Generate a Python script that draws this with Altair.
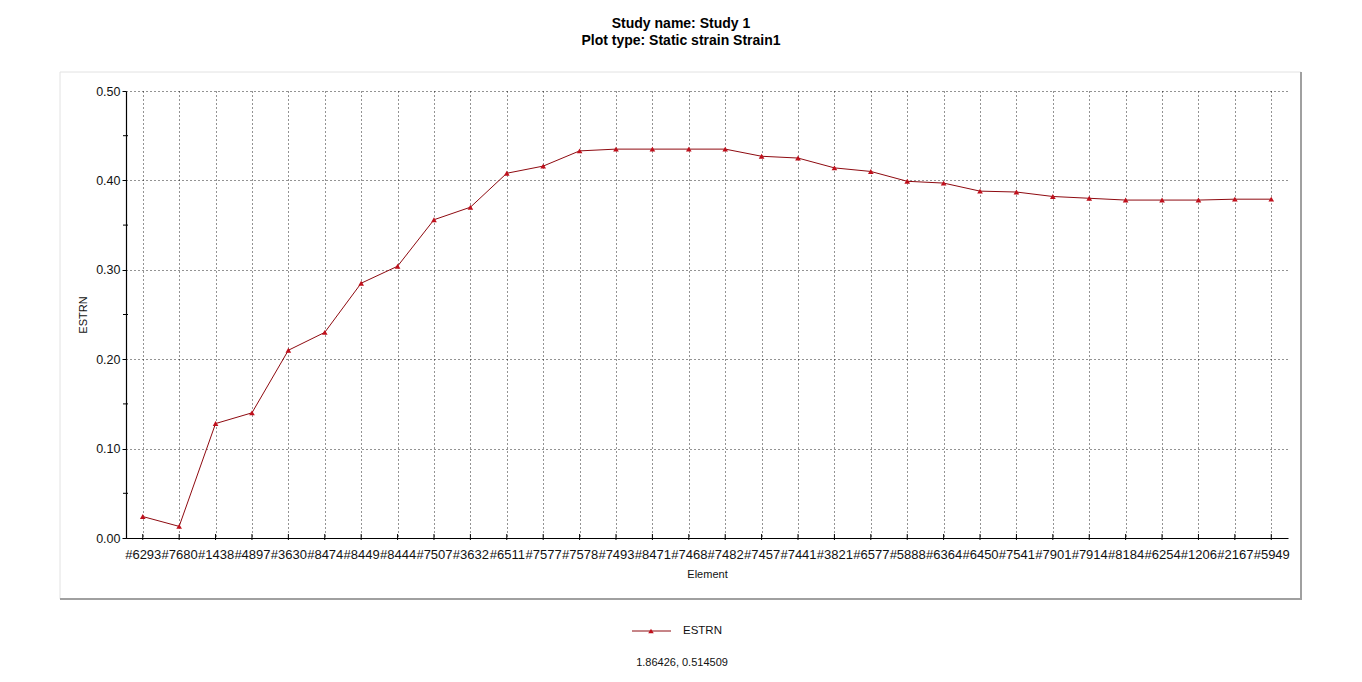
import altair as alt
import pandas as pd

FONT = "Liberation Sans"

elements = ["#6293", "#7680", "#1438", "#4897", "#3630", "#8474", "#8449", "#8444",
            "#7507", "#3632", "#6511", "#7577", "#7578", "#7493", "#8471", "#7468",
            "#7482", "#7457", "#7441", "#3821", "#6577", "#5888", "#6364", "#6450",
            "#7541", "#7901", "#7914", "#8184", "#6254", "#1206", "#2167", "#5949"]
estrn = [0.024, 0.013, 0.128, 0.140, 0.210, 0.230, 0.285, 0.304,
         0.356, 0.370, 0.408, 0.416, 0.433, 0.435, 0.435, 0.435,
         0.435, 0.427, 0.425, 0.414, 0.410, 0.399, 0.397, 0.388,
         0.387, 0.382, 0.380, 0.378, 0.378, 0.378, 0.379, 0.379]
y_major = [0.0, 0.1, 0.2, 0.3, 0.4, 0.5]
y_minor = [0.05, 0.15, 0.25, 0.35, 0.45]
title_lines = ["Study name: Study 1", "Plot type: Static strain Strain1"]
legend_label = ["ESTRN"]
cursor_text = ["1.86426, 0.514509"]

LINE_COLOR = "#8E0A10"
MARK_COLOR = "#C0101C"
GRID_COLOR = "#000000"

df = pd.DataFrame({"Element": elements, "ESTRN": estrn})

xscale = alt.Scale(type="point", padding=0.46)
yscale = alt.Scale(domain=[0, 0.5], nice=False, zero=True)

x_enc = alt.X(
    "Element:N", sort=None, scale=xscale,
    axis=alt.Axis(title="Element", labelAngle=0, labelOverlap=False, ticks=False,
                  grid=True, gridDash=[1, 3], gridColor=GRID_COLOR, gridOpacity=0.85,
                  labelPadding=10, labelFontSize=13, labelFont=FONT, labelColor="#111",
                  titleFontSize=11, titleFont=FONT, titleFontWeight="normal",
                  titleColor="#111", titlePadding=7, domainColor="#000", domainWidth=1.2),
)
y_enc = alt.Y(
    "ESTRN:Q", scale=yscale,
    axis=alt.Axis(title="ESTRN", values=y_major, format=".2f",
                  grid=True, gridDash=[1, 3], gridColor=GRID_COLOR, gridOpacity=0.85,
                  tickSize=4, tickColor="#000", labelPadding=2,
                  labelFontSize=12.5, labelFont=FONT, labelColor="#111",
                  titleFontSize=11, titleFont=FONT, titleFontWeight="normal",
                  titleColor="#111", titlePadding=7, domainColor="#000", domainWidth=1.2),
)

base = alt.Chart(df).encode(x=x_enc, y=y_enc)
line = base.mark_line(color=LINE_COLOR, strokeWidth=1)
pts = base.mark_point(shape="triangle-up", filled=True, size=32, color=MARK_COLOR, opacity=1)
xticks = base.mark_rule(color="#000", strokeWidth=1).encode(
    y=alt.value(443), y2=alt.value(449))

minor = alt.Chart(pd.DataFrame({"ESTRN": y_minor})).mark_rule(color="#000", strokeWidth=1).encode(
    y=alt.Y("ESTRN:Q", scale=yscale), x=alt.value(-3), x2=alt.value(2))

# outer frame
frame = alt.Chart(pd.DataFrame({"a": [0]})).mark_rect(
    fillOpacity=0, stroke="#e2e2e2", strokeWidth=1).encode(
    x=alt.value(-66), x2=alt.value(1175), y=alt.value(-19), y2=alt.value(508))
frame_r = alt.Chart(pd.DataFrame({"a": [0]})).mark_rule(color="#a0a0a0", strokeWidth=2).encode(
    x=alt.value(1175), y=alt.value(-19), y2=alt.value(508))
frame_b = alt.Chart(pd.DataFrame({"a": [0]})).mark_rule(color="#a0a0a0", strokeWidth=2).encode(
    x=alt.value(-66), x2=alt.value(1176), y=alt.value(508))

t1 = alt.Chart(pd.DataFrame({"t": [title_lines[0]]})).mark_text(
    font=FONT, fontSize=14, fontWeight="bold", color="#000", align="center", baseline="middle").encode(
    text="t:N", x=alt.value(555), y=alt.value(-67))
t2 = alt.Chart(pd.DataFrame({"t": [title_lines[1]]})).mark_text(
    font=FONT, fontSize=14, fontWeight="bold", color="#000", align="center", baseline="middle").encode(
    text="t:N", x=alt.value(555), y=alt.value(-50))

leg_line = alt.Chart(pd.DataFrame({"a": [0]})).mark_rule(color=LINE_COLOR, strokeWidth=1).encode(
    x=alt.value(506), x2=alt.value(545), y=alt.value(540))
leg_pt = alt.Chart(pd.DataFrame({"a": [0]})).mark_point(
    shape="triangle-up", filled=True, size=30, color=MARK_COLOR, opacity=1).encode(
    x=alt.value(525), y=alt.value(540))
leg_txt = alt.Chart(pd.DataFrame({"t": legend_label})).mark_text(
    font=FONT, fontSize=11.5, color="#111", align="left", baseline="middle").encode(
    text="t:N", x=alt.value(557), y=alt.value(540))
cur_txt = alt.Chart(pd.DataFrame({"t": cursor_text})).mark_text(
    font=FONT, fontSize=11, color="#111", align="center", baseline="middle").encode(
    text="t:N", x=alt.value(556), y=alt.value(572))

chart = alt.layer(
    frame, frame_r, frame_b, line, pts, xticks, minor, t1, t2, leg_line, leg_pt, leg_txt, cur_txt
).properties(
    width=1162, height=447,
    padding={"left": 126, "top": 91, "right": 74, "bottom": 144},
    autosize=alt.AutoSizeParams(type="none"),
    background="white",
).configure_view(stroke=None)

chart.save("out.html", embed_options={"renderer": "svg", "actions": False})
